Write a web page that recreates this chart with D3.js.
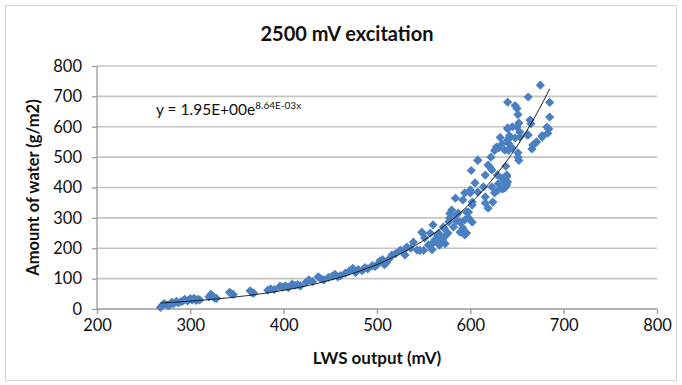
<!DOCTYPE html>
<html><head><meta charset="utf-8">
<script src="https://cdn.jsdelivr.net/npm/d3@7"></script>
<style>
html,body{margin:0;padding:0;background:#fff;}
svg{display:block;}
text{font-family:Lato,"Open Sans",sans-serif;fill:#111;}
</style></head>
<body>
<svg id="chart" width="682" height="385"></svg>
<script>
// ---- data ----
const chartTitle = "2500 mV excitation";
const xAxisTitle = "LWS output (mV)";
const yAxisTitle = "Amount of water (g/m2)";
const xTicks = [200, 300, 400, 500, 600, 700, 800];
const yTicks = [0, 100, 200, 300, 400, 500, 600, 700, 800];
const trendA = 1.95;      // y = A e^(B x)
const trendB = 8.64e-3;
const eqMain = "y = 1.95E+00e";
const eqSup = "8.64E-03x";

const lwsOutput = [
 268,270,272,275,277,280,282,285,287,290,292,294,297,300,302,304,306,308,310,
 320,322,324,326,328,342,344,346,364,366,368,383,386,390,396,399,402,405,409,412,415,418,
 424,427,431,437,440,443,448,452,455,458,461,466,470,474,477,480,484,487,490,495,498,501,503,506,508,510,
 513,516,520,525,528,530,532,536,539,543,546,548,549,550,551,555,557,559,560,560,561,562,563,565,566,567,569,570,571,572,573,573,576,577,578,578,
 580,582,584,585,585,587,589,589,592,592,594,594,594,596,596,598,598,600,600,601,602,602,602,605,608,608,608,
 614,616,616,616,619,619,621,622,623,623,624,626,626,628,629,630,630,630,632,634,634,634,635,637,637,637,638,639,639,639,
 640,640,640,640,640,641,641,642,642,643,645,645,648,648,650,650,651,651,651,652,652,653,653,
 661,662,662,664,665,666,667,669,671,675,677,677,682,683,684,685,685
];
const waterAmount = [
 5,12,18,14,11,22,17,25,20,24,27,32,27,34,30,35,28,32,30,
 40,48,43,36,35,55,50,48,60,54,52,62,66,64,75,72,76,70,82,78,80,76,
 88,96,90,106,100,96,104,108,114,106,110,118,124,134,120,130,126,136,132,143,140,148,158,163,146,152,
 165,178,182,194,190,178,204,200,220,194,193,253,249,193,234,211,250,195,217,277,221,228,228,244,249,210,232,227,270,265,240,215,250,287,300,314,
 326,270,365,290,309,316,286,253,267,359,244,382,293,250,319,300,319,392,382,456,286,342,352,415,490,489,385,
 402,441,369,349,474,332,467,500,458,402,352,382,522,533,441,530,392,412,565,431,544,396,396,523,418,399,470,435,408,441,
 596,556,681,418,593,545,522,570,565,530,600,530,563,670,599,660,640,514,500,612,489,582,566,
 573,698,573,622,610,527,540,544,550,737,566,571,599,579,593,680,632
];
const points = lwsOutput.map((x, i) => ({x, y: waterAmount[i]}));

// ---- layout ----
const svg = d3.select("#chart");
const x = d3.scaleLinear().domain([200, 800]).range([97, 657]);
const y = d3.scaleLinear().domain([0, 800]).range([309, 66]);

// outer border
svg.append("rect").attr("x", 5.5).attr("y", 5.5).attr("width", 671).attr("height", 375)
  .attr("fill", "#fff").attr("stroke", "#d4d4d4").attr("stroke-width", 1);

// gridlines
svg.append("g").selectAll("line").data(yTicks.filter(d => d > 0)).join("line")
  .attr("x1", x(200)).attr("x2", x(800))
  .attr("y1", d => y(d)).attr("y2", d => y(d))
  .attr("stroke", "#c4c4c4").attr("stroke-width", 1.6);

// axes
const xAxis = d3.axisBottom(x).tickValues(xTicks).tickSize(5).tickPadding(5);
const gx = svg.append("g").attr("transform", `translate(0,${y(0)})`).call(xAxis);
const yAxis = d3.axisLeft(y).tickValues(yTicks).tickSize(5).tickPadding(10);
const gy = svg.append("g").attr("transform", `translate(${x(200)},0)`).call(yAxis);
[gx, gy].forEach(g => {
  g.select(".domain").attr("stroke", "#9a9a9a").attr("stroke-width", 1.3);
  g.selectAll(".tick line").attr("stroke", "#9a9a9a").attr("stroke-width", 1.3);
  g.selectAll(".tick text").attr("font-family", "Lato, sans-serif").attr("font-size", 16.5).attr("fill", "#222");
});
gx.select(".domain").attr("d", `M${x(200)},0H${x(800)}`);
gy.select(".domain").attr("d", `M0,${y(0)}V${y(800)}`);

// points (diamonds)
const r = 4.6;
svg.append("g").selectAll("path").data(points).join("path")
  .attr("d", `M0,${-r}L${r},0L0,${r}L${-r},0Z`)
  .attr("transform", d => `translate(${x(d.x)},${y(d.y)})`)
  .attr("fill", "#4a80c1");

// trendline
const [xmin, xmax] = d3.extent(lwsOutput);
const trend = d3.range(xmin, xmax + 0.01, 1).map(v => ({x: v, y: trendA * Math.exp(trendB * v)}));
svg.append("path").datum(trend)
  .attr("d", d3.line().x(d => x(d.x)).y(d => y(d.y)))
  .attr("fill", "none").attr("stroke", "#111").attr("stroke-width", 1);

// equation
const eq = svg.append("text").attr("x", 156).attr("y", 115).attr("font-size", 15.5);
eq.append("tspan").text(eqMain);
eq.append("tspan").attr("dy", -6).attr("font-size", 10).text(eqSup);

// titles
svg.append("text").attr("x", 347).attr("y", 41).attr("text-anchor", "middle")
  .attr("font-size", 20).attr("font-weight", "bold").text(chartTitle);
svg.append("text").attr("x", 377).attr("y", 364).attr("text-anchor", "middle")
  .attr("font-size", 17).attr("font-weight", "bold").text(xAxisTitle);
svg.append("text").attr("transform", `translate(39,${(y(0) + y(800)) / 2}) rotate(-90)`)
  .attr("text-anchor", "middle").attr("font-size", 16.5).attr("font-weight", "bold").text(yAxisTitle);
</script>
</body></html>
